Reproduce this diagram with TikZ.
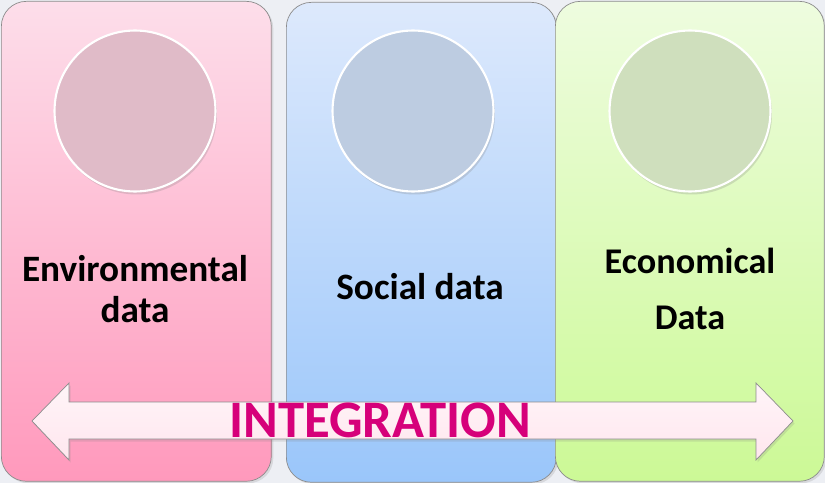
\documentclass[tikz,border=0pt]{standalone}
\usepackage{fontspec}
\setmainfont{Carlito}
\usetikzlibrary{positioning, shadows}

\definecolor{backgr}{HTML}{EDEFF4}
\definecolor{pinktop}{HTML}{FDDEEA}
\definecolor{pinkbot}{HTML}{FF99BC}
\definecolor{bluetop}{HTML}{DDE9FC}
\definecolor{bluebot}{HTML}{9AC6FA}
\definecolor{greentop}{HTML}{EEFCDF}
\definecolor{greenbot}{HTML}{CCF996}
\definecolor{pinkdisc}{HTML}{E0BBC8}
\definecolor{bluedisc}{HTML}{BDCCE1}
\definecolor{greendisc}{HTML}{CFDFBD}
\definecolor{arrowfill}{HTML}{FFE6EE}
\definecolor{integ}{HTML}{D6007A}

\begin{document}
\begin{tikzpicture}[x = 0.02cm, y = -0.02cm,
    panel/.style = {draw = gray!90, rounded corners = 0.5cm, anchor = north west,
                    minimum width = 5.4cm, minimum height = 9.6cm,
                    drop shadow = {opacity = 0.2, shadow xshift = 0.04cm, shadow yshift = -0.04cm}},
    disc/.style  = {circle, draw = white, line width = 1.2pt, minimum size = 3.22cm,
                    drop shadow = {opacity = 0.25, shadow xshift = 0.03cm, shadow yshift = -0.06cm}},
    txt/.style   = {font = \bfseries, align = center, text = black}]

    \useasboundingbox[fill = backgr] (0,0) rectangle (825,483);

    % panels
    \node[panel, top color = pinktop, bottom color = pinkbot]   (env) at (1,1)   {};
    \node[panel, top color = bluetop, bottom color = bluebot]   (soc) at (286,2) {};
    \node[panel, top color = greentop, bottom color = greenbot,
          minimum width = 5.38cm]                                (eco) at (555,1) {};

    % discs
    \node[disc, fill = pinkdisc]  (envc) at (135,111) {};
    \node[disc, fill = bluedisc]  (socc) at (413,111) {};
    \node[disc, fill = greendisc] (ecoc) at (690,111) {};

    % texts
    \node[txt, font = \fontsize{21.2}{23.3}\selectfont\bfseries] (envt) at (135,289) {Environmental\\data};
    \node[txt, font = \fontsize{21.2}{22}\selectfont\bfseries, anchor = base] (soct) at (420,299) {Social data};
    \node[txt, font = \fontsize{20.6}{31.7}\selectfont\bfseries] (ecot) at (690,289) {Economical\\Data};

    % integration arrow
    \path[draw = gray!90, top color = arrowfill!40!white, bottom color = arrowfill,
          drop shadow = {opacity = 0.2, shadow xshift = 0.03cm, shadow yshift = -0.05cm}]
        (32,421) -- (69,383) -- (69,402) -- (756,402) -- (756,383) -- (793,421)
        -- (756,460) -- (756,439) -- (69,439) -- (69,460) -- cycle;
    \node[font = \fontsize{30}{30}\selectfont\bfseries, text = integ, anchor = base] (integ) at (380,437) {INTEGRATION};
\end{tikzpicture}
\end{document}
